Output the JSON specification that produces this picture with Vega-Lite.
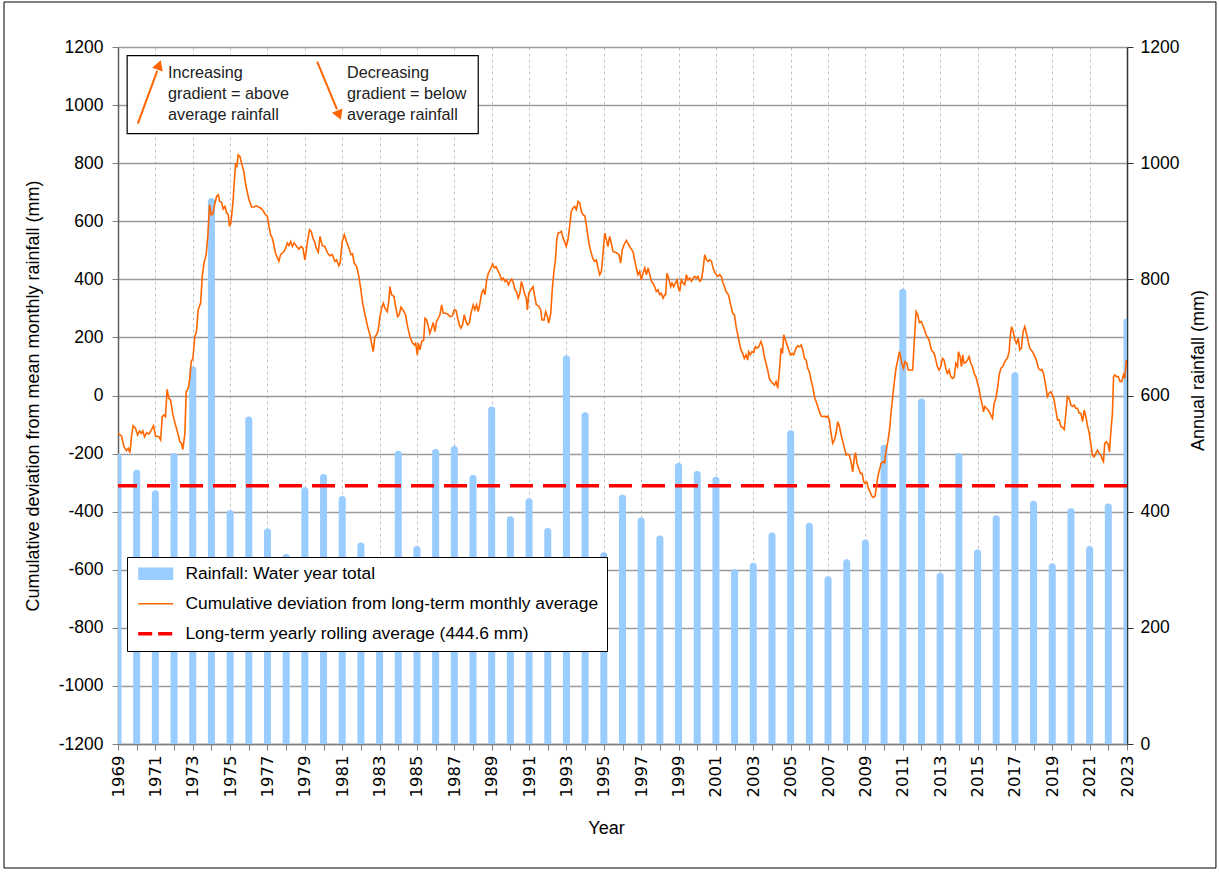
{
  "$schema": "https://vega.github.io/schema/vega-lite/v6.json",
  "width": 1009,
  "height": 697,
  "autosize": {"type": "none"},
  "padding": {"left": 118, "top": 47, "right": 92, "bottom": 128},
  "background": "white",
  "config": {
    "font": "Liberation Sans",
    "view": {"stroke": null},
    "axis": {"labelColor": "black", "titleColor": "black", "titleFontWeight": "normal", "labelFont": "Liberation Sans", "titleFont": "Liberation Sans", "labelOverlap": false},
    "axisX": {"labelOverlap": false, "labelFlush": false}
  },
  "datasets": {
    "rain": [
      {"year": 1969, "rainfall": 500}, {"year": 1970, "rainfall": 472}, {"year": 1971, "rainfall": 437}, {"year": 1972, "rainfall": 501},
      {"year": 1973, "rainfall": 650}, {"year": 1974, "rainfall": 940}, {"year": 1975, "rainfall": 403}, {"year": 1976, "rainfall": 564},
      {"year": 1977, "rainfall": 371}, {"year": 1978, "rainfall": 327}, {"year": 1979, "rainfall": 442}, {"year": 1980, "rainfall": 465},
      {"year": 1981, "rainfall": 427}, {"year": 1982, "rainfall": 347}, {"year": 1983, "rainfall": 300}, {"year": 1984, "rainfall": 505},
      {"year": 1985, "rainfall": 341}, {"year": 1986, "rainfall": 508}, {"year": 1987, "rainfall": 513}, {"year": 1988, "rainfall": 463},
      {"year": 1989, "rainfall": 581}, {"year": 1990, "rainfall": 392}, {"year": 1991, "rainfall": 423}, {"year": 1992, "rainfall": 372},
      {"year": 1993, "rainfall": 669}, {"year": 1994, "rainfall": 571}, {"year": 1995, "rainfall": 330}, {"year": 1996, "rainfall": 429},
      {"year": 1997, "rainfall": 390}, {"year": 1998, "rainfall": 359}, {"year": 1999, "rainfall": 484}, {"year": 2000, "rainfall": 470},
      {"year": 2001, "rainfall": 460}, {"year": 2002, "rainfall": 301}, {"year": 2003, "rainfall": 312}, {"year": 2004, "rainfall": 364},
      {"year": 2005, "rainfall": 540}, {"year": 2006, "rainfall": 381}, {"year": 2007, "rainfall": 289}, {"year": 2008, "rainfall": 318},
      {"year": 2009, "rainfall": 352}, {"year": 2010, "rainfall": 515}, {"year": 2011, "rainfall": 784}, {"year": 2012, "rainfall": 595},
      {"year": 2013, "rainfall": 295}, {"year": 2014, "rainfall": 501}, {"year": 2015, "rainfall": 335}, {"year": 2016, "rainfall": 394},
      {"year": 2017, "rainfall": 640}, {"year": 2018, "rainfall": 419}, {"year": 2019, "rainfall": 311}, {"year": 2020, "rainfall": 406},
      {"year": 2021, "rainfall": 341}, {"year": 2022, "rainfall": 414}, {"year": 2023, "rainfall": 733}
    ],
    "dev": [
      {"t":1969.01,"dev":-130},{"t":1969.19,"dev":-140},{"t":1969.32,"dev":-176},{"t":1969.45,"dev":-190},{"t":1969.55,"dev":-182},{"t":1969.64,"dev":-197},{"t":1969.72,"dev":-142},{"t":1969.81,"dev":-104},{"t":1969.94,"dev":-113},
      {"t":1970.05,"dev":-136},{"t":1970.15,"dev":-122},{"t":1970.26,"dev":-130},{"t":1970.33,"dev":-122},{"t":1970.42,"dev":-142},{"t":1970.53,"dev":-128},{"t":1970.65,"dev":-133},{"t":1970.80,"dev":-117},{"t":1970.90,"dev":-104},
      {"t":1971.01,"dev":-140},{"t":1971.19,"dev":-142},{"t":1971.28,"dev":-153},{"t":1971.37,"dev":-73},{"t":1971.46,"dev":-67},{"t":1971.54,"dev":-73},{"t":1971.63,"dev":21},{"t":1971.72,"dev":-10},{"t":1971.81,"dev":-15},{"t":1971.94,"dev":-67},
      {"t":1972.08,"dev":-102},{"t":1972.20,"dev":-130},{"t":1972.31,"dev":-159},{"t":1972.40,"dev":-165},{"t":1972.47,"dev":-186},{"t":1972.58,"dev":-130},{"t":1972.65,"dev":13},{"t":1972.76,"dev":25},{"t":1972.83,"dev":53},{"t":1972.92,"dev":117},
      {"t":1973.01,"dev":128},{"t":1973.11,"dev":203},{"t":1973.20,"dev":220},{"t":1973.29,"dev":295},{"t":1973.42,"dev":318},{"t":1973.51,"dev":410},{"t":1973.60,"dev":456},{"t":1973.72,"dev":485},{"t":1973.81,"dev":553},{"t":1973.90,"dev":657},{"t":1973.99,"dev":622},
      {"t":1974.08,"dev":626},{"t":1974.19,"dev":663},{"t":1974.28,"dev":686},{"t":1974.37,"dev":691},{"t":1974.44,"dev":668},{"t":1974.54,"dev":665},{"t":1974.63,"dev":642},{"t":1974.72,"dev":651},{"t":1974.81,"dev":630},{"t":1974.90,"dev":622},{"t":1974.97,"dev":582},
      {"t":1975.04,"dev":594},{"t":1975.15,"dev":663},{"t":1975.22,"dev":732},{"t":1975.29,"dev":795},{"t":1975.36,"dev":789},{"t":1975.43,"dev":829},{"t":1975.52,"dev":824},{"t":1975.61,"dev":801},{"t":1975.73,"dev":772},{"t":1975.82,"dev":732},{"t":1975.91,"dev":703},
      {"t":1976.01,"dev":674},{"t":1976.15,"dev":649},{"t":1976.27,"dev":649},{"t":1976.40,"dev":653},{"t":1976.54,"dev":648},{"t":1976.65,"dev":645},{"t":1976.76,"dev":637},{"t":1976.86,"dev":626},{"t":1976.99,"dev":617},
      {"t":1977.08,"dev":582},{"t":1977.17,"dev":553},{"t":1977.26,"dev":542},{"t":1977.34,"dev":519},{"t":1977.43,"dev":490},{"t":1977.52,"dev":476},{"t":1977.61,"dev":462},{"t":1977.70,"dev":485},{"t":1977.79,"dev":490},{"t":1977.88,"dev":496},{"t":1977.97,"dev":507},
      {"t":1978.06,"dev":525},{"t":1978.15,"dev":516},{"t":1978.24,"dev":530},{"t":1978.33,"dev":513},{"t":1978.42,"dev":525},{"t":1978.54,"dev":516},{"t":1978.68,"dev":504},{"t":1978.79,"dev":513},{"t":1978.90,"dev":507},
      {"t":1979.00,"dev":467},{"t":1979.07,"dev":496},{"t":1979.17,"dev":542},{"t":1979.25,"dev":571},{"t":1979.34,"dev":565},{"t":1979.43,"dev":542},{"t":1979.52,"dev":530},{"t":1979.61,"dev":507},{"t":1979.72,"dev":493},{"t":1979.81,"dev":548},{"t":1979.93,"dev":516},
      {"t":1980.07,"dev":513},{"t":1980.22,"dev":490},{"t":1980.34,"dev":481},{"t":1980.47,"dev":485},{"t":1980.61,"dev":462},{"t":1980.70,"dev":467},{"t":1980.82,"dev":447},{"t":1980.89,"dev":456},
      {"t":1981.00,"dev":530},{"t":1981.11,"dev":553},{"t":1981.23,"dev":530},{"t":1981.36,"dev":507},{"t":1981.47,"dev":485},{"t":1981.55,"dev":488},{"t":1981.64,"dev":456},{"t":1981.77,"dev":444},{"t":1981.89,"dev":410},
      {"t":1982.00,"dev":364},{"t":1982.09,"dev":318},{"t":1982.22,"dev":278},{"t":1982.36,"dev":237},{"t":1982.48,"dev":209},{"t":1982.57,"dev":180},{"t":1982.66,"dev":151},{"t":1982.75,"dev":203},{"t":1982.84,"dev":209},{"t":1982.93,"dev":226},
      {"t":1983.02,"dev":272},{"t":1983.11,"dev":301},{"t":1983.20,"dev":318},{"t":1983.29,"dev":301},{"t":1983.41,"dev":289},{"t":1983.50,"dev":329},{"t":1983.55,"dev":375},{"t":1983.64,"dev":347},{"t":1983.77,"dev":341},{"t":1983.86,"dev":306},{"t":1983.96,"dev":272},
      {"t":1984.05,"dev":278},{"t":1984.14,"dev":304},{"t":1984.27,"dev":293},{"t":1984.39,"dev":278},{"t":1984.50,"dev":237},{"t":1984.62,"dev":203},{"t":1984.75,"dev":182},{"t":1984.86,"dev":174},{"t":1984.93,"dev":180},
      {"t":1985.02,"dev":140},{"t":1985.07,"dev":180},{"t":1985.16,"dev":157},{"t":1985.25,"dev":186},{"t":1985.36,"dev":191},{"t":1985.43,"dev":266},{"t":1985.52,"dev":260},{"t":1985.61,"dev":237},{"t":1985.69,"dev":214},{"t":1985.78,"dev":232},{"t":1985.87,"dev":251},{"t":1985.96,"dev":220},
      {"t":1986.05,"dev":255},{"t":1986.14,"dev":266},{"t":1986.23,"dev":278},{"t":1986.32,"dev":312},{"t":1986.41,"dev":283},{"t":1986.53,"dev":283},{"t":1986.64,"dev":281},{"t":1986.77,"dev":272},{"t":1986.89,"dev":274},
      {"t":1987.00,"dev":295},{"t":1987.09,"dev":293},{"t":1987.18,"dev":266},{"t":1987.27,"dev":243},{"t":1987.35,"dev":232},{"t":1987.44,"dev":243},{"t":1987.53,"dev":278},{"t":1987.62,"dev":255},{"t":1987.71,"dev":243},{"t":1987.80,"dev":249},{"t":1987.89,"dev":283},
      {"t":1988.01,"dev":312},{"t":1988.10,"dev":295},{"t":1988.19,"dev":312},{"t":1988.28,"dev":289},{"t":1988.37,"dev":318},{"t":1988.46,"dev":352},{"t":1988.55,"dev":364},{"t":1988.64,"dev":347},{"t":1988.73,"dev":398},{"t":1988.82,"dev":421},{"t":1988.96,"dev":439},
      {"t":1989.05,"dev":453},{"t":1989.14,"dev":439},{"t":1989.23,"dev":444},{"t":1989.35,"dev":427},{"t":1989.44,"dev":416},{"t":1989.53,"dev":398},{"t":1989.62,"dev":404},{"t":1989.71,"dev":393},{"t":1989.80,"dev":398},{"t":1989.89,"dev":381},{"t":1989.98,"dev":393},
      {"t":1990.07,"dev":401},{"t":1990.16,"dev":387},{"t":1990.25,"dev":364},{"t":1990.33,"dev":358},{"t":1990.42,"dev":335},{"t":1990.51,"dev":352},{"t":1990.59,"dev":393},{"t":1990.67,"dev":375},{"t":1990.76,"dev":350},{"t":1990.85,"dev":335},{"t":1990.91,"dev":295},{"t":1990.98,"dev":352},
      {"t":1991.08,"dev":362},{"t":1991.21,"dev":375},{"t":1991.30,"dev":341},{"t":1991.39,"dev":312},{"t":1991.51,"dev":309},{"t":1991.62,"dev":295},{"t":1991.69,"dev":260},{"t":1991.80,"dev":260},{"t":1991.89,"dev":289},{"t":1991.98,"dev":272},
      {"t":1992.05,"dev":249},{"t":1992.16,"dev":283},{"t":1992.24,"dev":364},{"t":1992.32,"dev":421},{"t":1992.41,"dev":467},{"t":1992.48,"dev":536},{"t":1992.55,"dev":559},{"t":1992.64,"dev":561},{"t":1992.73,"dev":565},{"t":1992.82,"dev":542},{"t":1992.90,"dev":530},{"t":1992.99,"dev":513},
      {"t":1993.08,"dev":536},{"t":1993.17,"dev":582},{"t":1993.26,"dev":634},{"t":1993.35,"dev":645},{"t":1993.44,"dev":651},{"t":1993.53,"dev":640},{"t":1993.62,"dev":668},{"t":1993.71,"dev":663},{"t":1993.80,"dev":634},{"t":1993.89,"dev":622},{"t":1993.98,"dev":619},
      {"t":1994.06,"dev":588},{"t":1994.15,"dev":548},{"t":1994.24,"dev":513},{"t":1994.33,"dev":490},{"t":1994.42,"dev":470},{"t":1994.51,"dev":462},{"t":1994.60,"dev":467},{"t":1994.69,"dev":439},{"t":1994.78,"dev":416},{"t":1994.87,"dev":427},{"t":1994.96,"dev":490},
      {"t":1995.05,"dev":559},{"t":1995.14,"dev":536},{"t":1995.22,"dev":513},{"t":1995.31,"dev":548},{"t":1995.40,"dev":525},{"t":1995.49,"dev":496},{"t":1995.62,"dev":493},{"t":1995.72,"dev":490},{"t":1995.81,"dev":485},{"t":1995.90,"dev":456},{"t":1995.99,"dev":502},
      {"t":1996.08,"dev":519},{"t":1996.21,"dev":534},{"t":1996.33,"dev":519},{"t":1996.44,"dev":507},{"t":1996.56,"dev":496},{"t":1996.65,"dev":467},{"t":1996.74,"dev":439},{"t":1996.83,"dev":416},{"t":1996.92,"dev":427},
      {"t":1997.01,"dev":398},{"t":1997.10,"dev":421},{"t":1997.19,"dev":439},{"t":1997.28,"dev":416},{"t":1997.37,"dev":439},{"t":1997.46,"dev":416},{"t":1997.55,"dev":393},{"t":1997.63,"dev":387},{"t":1997.72,"dev":375},{"t":1997.81,"dev":358},{"t":1997.90,"dev":364},{"t":1997.99,"dev":347},
      {"t":1998.08,"dev":352},{"t":1998.17,"dev":335},{"t":1998.26,"dev":347},{"t":1998.31,"dev":347},{"t":1998.38,"dev":421},{"t":1998.47,"dev":404},{"t":1998.58,"dev":375},{"t":1998.65,"dev":387},{"t":1998.74,"dev":375},{"t":1998.83,"dev":387},{"t":1998.92,"dev":398},{"t":1998.97,"dev":375},
      {"t":1999.06,"dev":358},{"t":1999.15,"dev":398},{"t":1999.24,"dev":387},{"t":1999.33,"dev":381},{"t":1999.42,"dev":416},{"t":1999.51,"dev":398},{"t":1999.60,"dev":404},{"t":1999.69,"dev":393},{"t":1999.78,"dev":404},{"t":1999.86,"dev":410},{"t":1999.95,"dev":404},
      {"t":2000.04,"dev":410},{"t":2000.13,"dev":393},{"t":2000.22,"dev":398},{"t":2000.31,"dev":433},{"t":2000.40,"dev":485},{"t":2000.49,"dev":467},{"t":2000.58,"dev":462},{"t":2000.67,"dev":467},{"t":2000.76,"dev":462},{"t":2000.85,"dev":439},{"t":2000.94,"dev":424},
      {"t":2001.03,"dev":416},{"t":2001.11,"dev":410},{"t":2001.20,"dev":416},{"t":2001.29,"dev":410},{"t":2001.38,"dev":387},{"t":2001.46,"dev":375},{"t":2001.54,"dev":358},{"t":2001.67,"dev":347},{"t":2001.77,"dev":318},{"t":2001.90,"dev":283},{"t":2001.99,"dev":278},
      {"t":2002.08,"dev":237},{"t":2002.17,"dev":209},{"t":2002.26,"dev":180},{"t":2002.34,"dev":157},{"t":2002.43,"dev":145},{"t":2002.52,"dev":128},{"t":2002.61,"dev":140},{"t":2002.70,"dev":122},{"t":2002.75,"dev":151},{"t":2002.84,"dev":140},{"t":2002.93,"dev":151},
      {"t":2003.02,"dev":148},{"t":2003.11,"dev":168},{"t":2003.20,"dev":163},{"t":2003.29,"dev":168},{"t":2003.41,"dev":186},{"t":2003.50,"dev":168},{"t":2003.59,"dev":134},{"t":2003.68,"dev":111},{"t":2003.77,"dev":88},{"t":2003.86,"dev":59},{"t":2003.95,"dev":48},
      {"t":2004.04,"dev":42},{"t":2004.13,"dev":36},{"t":2004.22,"dev":48},{"t":2004.31,"dev":25},{"t":2004.40,"dev":88},{"t":2004.49,"dev":163},{"t":2004.56,"dev":145},{"t":2004.63,"dev":209},{"t":2004.72,"dev":191},{"t":2004.81,"dev":174},{"t":2004.90,"dev":157},{"t":2004.99,"dev":140},
      {"t":2005.08,"dev":145},{"t":2005.16,"dev":140},{"t":2005.29,"dev":163},{"t":2005.38,"dev":171},{"t":2005.47,"dev":168},{"t":2005.56,"dev":174},{"t":2005.65,"dev":157},{"t":2005.74,"dev":128},{"t":2005.83,"dev":122},{"t":2005.91,"dev":94},
      {"t":2006.00,"dev":82},{"t":2006.09,"dev":53},{"t":2006.18,"dev":30},{"t":2006.27,"dev":-4},{"t":2006.36,"dev":-21},{"t":2006.45,"dev":-38},{"t":2006.54,"dev":-56},{"t":2006.63,"dev":-71},{"t":2006.72,"dev":-73},{"t":2006.81,"dev":-71},{"t":2006.90,"dev":-75},{"t":2006.98,"dev":-71},
      {"t":2007.07,"dev":-84},{"t":2007.16,"dev":-130},{"t":2007.25,"dev":-165},{"t":2007.34,"dev":-153},{"t":2007.43,"dev":-130},{"t":2007.52,"dev":-90},{"t":2007.61,"dev":-107},{"t":2007.70,"dev":-136},{"t":2007.79,"dev":-159},{"t":2007.88,"dev":-182},{"t":2007.97,"dev":-205},
      {"t":2008.05,"dev":-202},{"t":2008.14,"dev":-205},{"t":2008.23,"dev":-228},{"t":2008.32,"dev":-263},{"t":2008.41,"dev":-211},{"t":2008.47,"dev":-197},{"t":2008.55,"dev":-234},{"t":2008.64,"dev":-251},{"t":2008.73,"dev":-268},{"t":2008.82,"dev":-268},{"t":2008.91,"dev":-297},{"t":2008.98,"dev":-303},
      {"t":2009.07,"dev":-297},{"t":2009.16,"dev":-320},{"t":2009.25,"dev":-332},{"t":2009.34,"dev":-346},{"t":2009.43,"dev":-351},{"t":2009.52,"dev":-346},{"t":2009.59,"dev":-314},{"t":2009.66,"dev":-280},{"t":2009.75,"dev":-257},{"t":2009.84,"dev":-234},{"t":2009.93,"dev":-228},
      {"t":2010.02,"dev":-232},{"t":2010.11,"dev":-188},{"t":2010.20,"dev":-159},{"t":2010.29,"dev":-119},{"t":2010.37,"dev":-61},{"t":2010.46,"dev":-4},{"t":2010.55,"dev":48},{"t":2010.64,"dev":94},{"t":2010.73,"dev":122},{"t":2010.82,"dev":151},{"t":2010.88,"dev":134},{"t":2010.95,"dev":111},
      {"t":2011.04,"dev":94},{"t":2011.12,"dev":117},{"t":2011.21,"dev":111},{"t":2011.30,"dev":88},{"t":2011.41,"dev":88},{"t":2011.53,"dev":88},{"t":2011.62,"dev":191},{"t":2011.71,"dev":289},{"t":2011.80,"dev":278},{"t":2011.89,"dev":251},{"t":2011.98,"dev":255},
      {"t":2012.07,"dev":243},{"t":2012.16,"dev":226},{"t":2012.25,"dev":209},{"t":2012.33,"dev":200},{"t":2012.41,"dev":191},{"t":2012.53,"dev":157},{"t":2012.68,"dev":145},{"t":2012.77,"dev":122},{"t":2012.85,"dev":99},{"t":2012.94,"dev":88},
      {"t":2013.03,"dev":99},{"t":2013.12,"dev":128},{"t":2013.21,"dev":122},{"t":2013.30,"dev":94},{"t":2013.39,"dev":76},{"t":2013.48,"dev":88},{"t":2013.57,"dev":65},{"t":2013.66,"dev":59},{"t":2013.75,"dev":63},{"t":2013.84,"dev":111},{"t":2013.93,"dev":99},{"t":2013.98,"dev":151},
      {"t":2014.07,"dev":134},{"t":2014.14,"dev":99},{"t":2014.21,"dev":140},{"t":2014.28,"dev":111},{"t":2014.37,"dev":113},{"t":2014.46,"dev":122},{"t":2014.55,"dev":134},{"t":2014.64,"dev":111},{"t":2014.73,"dev":99},{"t":2014.82,"dev":76},{"t":2014.91,"dev":65},
      {"t":2015.00,"dev":42},{"t":2015.08,"dev":25},{"t":2015.17,"dev":-10},{"t":2015.26,"dev":-33},{"t":2015.32,"dev":-56},{"t":2015.39,"dev":-38},{"t":2015.48,"dev":-44},{"t":2015.57,"dev":-50},{"t":2015.66,"dev":-61},{"t":2015.75,"dev":-73},{"t":2015.80,"dev":-79},{"t":2015.89,"dev":-27},{"t":2015.98,"dev":-10},
      {"t":2016.07,"dev":25},{"t":2016.16,"dev":71},{"t":2016.25,"dev":94},{"t":2016.34,"dev":99},{"t":2016.42,"dev":111},{"t":2016.51,"dev":122},{"t":2016.60,"dev":128},{"t":2016.69,"dev":151},{"t":2016.75,"dev":203},{"t":2016.82,"dev":237},{"t":2016.91,"dev":220},
      {"t":2017.00,"dev":191},{"t":2017.09,"dev":180},{"t":2017.18,"dev":197},{"t":2017.26,"dev":157},{"t":2017.35,"dev":163},{"t":2017.44,"dev":220},{"t":2017.53,"dev":237},{"t":2017.62,"dev":214},{"t":2017.71,"dev":186},{"t":2017.80,"dev":163},{"t":2017.89,"dev":155},{"t":2017.99,"dev":145},
      {"t":2018.08,"dev":132},{"t":2018.17,"dev":117},{"t":2018.26,"dev":94},{"t":2018.35,"dev":88},{"t":2018.44,"dev":90},{"t":2018.53,"dev":76},{"t":2018.60,"dev":53},{"t":2018.67,"dev":25},{"t":2018.74,"dev":-4},{"t":2018.83,"dev":8},{"t":2018.92,"dev":13},
      {"t":2019.01,"dev":2},{"t":2019.10,"dev":-15},{"t":2019.19,"dev":-50},{"t":2019.28,"dev":-84},{"t":2019.37,"dev":-84},{"t":2019.46,"dev":-107},{"t":2019.55,"dev":-110},{"t":2019.64,"dev":-117},{"t":2019.73,"dev":-61},{"t":2019.81,"dev":-4},{"t":2019.90,"dev":-10},
      {"t":2020.00,"dev":-33},{"t":2020.08,"dev":-38},{"t":2020.17,"dev":-33},{"t":2020.26,"dev":-44},{"t":2020.35,"dev":-44},{"t":2020.44,"dev":-61},{"t":2020.53,"dev":-61},{"t":2020.62,"dev":-90},{"t":2020.71,"dev":-50},{"t":2020.80,"dev":-73},{"t":2020.88,"dev":-102},{"t":2020.98,"dev":-130},
      {"t":2021.06,"dev":-165},{"t":2021.15,"dev":-205},{"t":2021.24,"dev":-211},{"t":2021.33,"dev":-199},{"t":2021.42,"dev":-188},{"t":2021.51,"dev":-199},{"t":2021.60,"dev":-205},{"t":2021.69,"dev":-222},{"t":2021.74,"dev":-228},{"t":2021.81,"dev":-165},{"t":2021.90,"dev":-159},{"t":2021.99,"dev":-167},
      {"t":2022.06,"dev":-194},{"t":2022.13,"dev":-130},{"t":2022.22,"dev":-61},{"t":2022.28,"dev":65},{"t":2022.35,"dev":71},{"t":2022.44,"dev":65},{"t":2022.53,"dev":65},{"t":2022.63,"dev":48},{"t":2022.72,"dev":48},{"t":2022.81,"dev":71},{"t":2022.88,"dev":59},{"t":2022.97,"dev":122},
      {"t":2023.06,"dev":99},{"t":2023.13,"dev":88}
    ]
  },
  "layer": [
    {
      "layer": [
        {
          "data": {"name": "rain"},
          "mark": {"type": "bar", "orient": "vertical", "size": 7, "cornerRadiusEnd": 3, "clip": true},
          "encoding": {
            "x": {
              "field": "year", "type": "quantitative",
              "scale": {"domain": [1969, 2023], "nice": false, "zero": false, "padding": 0},
              "axis": {
                "title": "Year", "titleFontSize": 18, "titleX": 488, "titleY": 84, "titleBaseline": "middle",
                "values": [1969,1970,1971,1972,1973,1974,1975,1976,1977,1978,1979,1980,1981,1982,1983,1984,1985,1986,1987,1988,1989,1990,1991,1992,1993,1994,1995,1996,1997,1998,1999,2000,2001,2002,2003,2004,2005,2006,2007,2008,2009,2010,2011,2012,2013,2014,2015,2016,2017,2018,2019,2020,2021,2022,2023],
                "tickCount": 200,
                "labelExpr": "datum.value % 2 == 1 ? '' + datum.value : ''",
                "labelAngle": -90, "labelFont": "DejaVu Sans", "labelFontSize": 16.5, "labelPadding": 5,
                "labelOverlap": false, "labelFlush": false, "labelBound": false, "labelSeparation": 0,
                "tickSize": 6, "tickColor": "#808080", "domainColor": "#808080", "domainWidth": 1.5,
                "grid": true, "gridColor": "#c4c4c4", "gridDash": [3, 3], "gridWidth": 1,
                "gridOpacity": {"condition": {"test": "datum.value % 2 == 1", "value": 1}, "value": 0}
              }
            },
            "y": {
              "field": "rainfall", "type": "quantitative", "stack": null,
              "scale": {"domain": [0, 1200], "nice": false},
              "axis": {
                "orient": "right", "title": "Annual rainfall (mm)", "titleFontSize": 18, "titleAngle": -90,
                "titleX": 71, "titleY": 323, "titleBaseline": "middle",
                "values": [0, 200, 400, 600, 800, 1000, 1200],
                "labelExpr": "'' + datum.value",
                "labelFontSize": 17.5, "labelPadding": 7, "tickSize": 6, "tickColor": "#333333", "domainColor": "#333333", "domainWidth": 1.5,
                "grid": false
              }
            },
            "color": {
              "datum": "Rainfall: Water year total",
              "scale": {
                "domain": ["Rainfall: Water year total", "Cumulative deviation from long-term monthly average", "Long-term yearly rolling average (444.6 mm)"],
                "range": ["#99CCFF", "#FF6600", "#FF0000"]
              },
              "legend": {
                "orient": "none", "legendX": 9, "legendY": 510, "direction": "vertical", "title": null,
                "fillColor": "white", "strokeColor": "black", "padding": 8,
                "labelFont": "Liberation Sans", "labelFontSize": 17.4, "labelColor": "black", "labelLimit": 700,
                "symbolSize": 400, "symbolOffset": 12, "labelOffset": 21, "rowPadding": 11,
                "encode": {
                  "symbols": {
                    "update": {
                      "shape": {"signal": "datum.value == 'Rainfall: Water year total' ? 'M-1.75,-0.62L1.75,-0.62L1.75,0.62L-1.75,0.62Z' : 'M-1.75,0L1.75,0'"},
                      "fill": {"signal": "datum.value == 'Rainfall: Water year total' ? '#99CCFF' : 'transparent'"},
                      "stroke": {"signal": "datum.value == 'Rainfall: Water year total' ? '#99CCFF' : (datum.value == 'Long-term yearly rolling average (444.6 mm)' ? '#FF0000' : '#FF6600')"},
                      "strokeWidth": {"signal": "datum.value == 'Rainfall: Water year total' ? 0 : (datum.value == 'Long-term yearly rolling average (444.6 mm)' ? 3.5 : 1.6)"},
                      "strokeDash": {"signal": "datum.value == 'Long-term yearly rolling average (444.6 mm)' ? [14, 6] : [1, 0]"},
                      "opacity": {"value": 1}
                    }
                  }
                }
              }
            }
          }
        },
        {
          "data": {"values": [{"average": 444.6}]},
          "mark": {"type": "rule", "strokeDash": [23, 10], "strokeWidth": 3.5},
          "encoding": {
            "y": {"field": "average", "type": "quantitative"},
            "color": {"datum": "Long-term yearly rolling average (444.6 mm)"}
          }
        }
      ]
    },
    {
      "layer": [
        {
          "data": {"name": "dev"},
          "mark": {"type": "line", "strokeWidth": 1.6, "clip": true},
          "encoding": {
            "x": {"field": "t", "type": "quantitative", "axis": {"labelOverlap": false, "labelSeparation": 0, "tickCount": 200}},
            "y": {
              "field": "dev", "type": "quantitative",
              "scale": {"domain": [-1200, 1200], "nice": false},
              "axis": {
                "orient": "left", "title": "Cumulative deviation from mean monthly rainfall (mm)", "titleFontSize": 18,
                "titleX": -85, "titleBaseline": "middle",
                "values": [-1200, -1000, -800, -600, -400, -200, 0, 200, 400, 600, 800, 1000, 1200],
                "tickCount": 50,
                "labelExpr": "'' + datum.value",
                "labelFontSize": 17.5, "labelPadding": 9, "tickSize": 6, "tickColor": "#808080", "domainColor": "#606060", "domainWidth": 1.5,
                "grid": true, "gridColor": "#9a9a9a", "gridWidth": 1.3
              }
            },
            "color": {"datum": "Cumulative deviation from long-term monthly average"}
          }
        },
        {
          "data": {"values": [{}]},
          "layer": [
            {
              "mark": {"type": "rect", "fill": null, "stroke": "black", "strokeWidth": 1, "clip": false},
              "encoding": {
                "x": {"datum": 1962.9, "type": "quantitative"}, "x2": {"datum": 2027.76},
                "y": {"datum": 1355, "type": "quantitative"}, "y2": {"datum": -1627}
              }
            },
            {
              "mark": {"type": "rect", "fill": "white", "stroke": "black", "strokeWidth": 1.2},
              "encoding": {
                "x": {"datum": 1969.49, "type": "quantitative"}, "x2": {"datum": 1988.28},
                "y": {"datum": 1170, "type": "quantitative"}, "y2": {"datum": 902}
              }
            },
            {
              "mark": {"type": "text", "text": ["Increasing", "gradient = above", "average rainfall"], "align": "left", "baseline": "middle", "lineHeight": 21, "fontSize": 16.2, "font": "Liberation Sans", "color": "#222222"},
              "encoding": {"x": {"datum": 1971.68, "type": "quantitative"}, "y": {"datum": 1112, "type": "quantitative"}}
            },
            {
              "mark": {"type": "text", "text": ["Decreasing", "gradient = below", "average rainfall"], "align": "left", "baseline": "middle", "lineHeight": 21, "fontSize": 16.2, "font": "Liberation Sans", "color": "#222222"},
              "encoding": {"x": {"datum": 1981.26, "type": "quantitative"}, "y": {"datum": 1112, "type": "quantitative"}}
            },
            {
              "mark": {"type": "rule", "color": "#FF6600", "strokeWidth": 2},
              "encoding": {
                "x": {"datum": 1970.06, "type": "quantitative"}, "x2": {"datum": 1971.1},
                "y": {"datum": 936, "type": "quantitative"}, "y2": {"datum": 1118}
              }
            },
            {
              "mark": {"type": "point", "shape": "triangle-up", "filled": true, "color": "#FF6600", "size": 130, "angle": 20, "opacity": 1},
              "encoding": {"x": {"datum": 1971.2, "type": "quantitative"}, "y": {"datum": 1138, "type": "quantitative"}}
            },
            {
              "mark": {"type": "rule", "color": "#FF6600", "strokeWidth": 2},
              "encoding": {
                "x": {"datum": 1979.66, "type": "quantitative"}, "x2": {"datum": 1980.72},
                "y": {"datum": 1150, "type": "quantitative"}, "y2": {"datum": 985}
              }
            },
            {
              "mark": {"type": "point", "shape": "triangle-up", "filled": true, "color": "#FF6600", "size": 130, "angle": 158, "opacity": 1},
              "encoding": {"x": {"datum": 1980.83, "type": "quantitative"}, "y": {"datum": 965, "type": "quantitative"}}
            }
          ]
        }
      ]
    }
  ],
  "resolve": {"scale": {"y": "independent"}}
}
